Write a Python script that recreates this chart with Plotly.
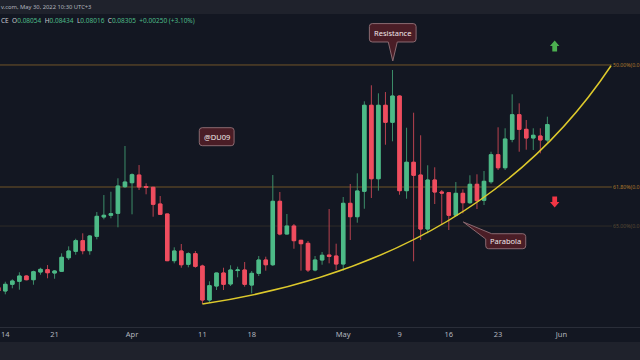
import plotly.graph_objects as go
import pandas as pd

# ---------------- data ----------------
start_date = "2022-03-13"
opens = [0.05650, 0.05593, 0.05702, 0.05751, 0.05837, 0.05777, 0.05902, 0.05940, 0.05886, 0.05914,
         0.06135, 0.06240, 0.06413, 0.06250, 0.06484, 0.06799, 0.06827, 0.06859, 0.07293, 0.07358,
         0.07483, 0.07296, 0.07283, 0.07011, 0.06848, 0.06087, 0.06245, 0.06028, 0.06201, 0.06000,
         0.05446, 0.05674, 0.05886, 0.05707, 0.05926, 0.05935, 0.05690, 0.05881, 0.06098, 0.06021,
         0.07055, 0.06522, 0.06652, 0.06419, 0.06370, 0.05935, 0.06098, 0.06179, 0.06163, 0.06033,
         0.07022, 0.06804, 0.07218, 0.08620, 0.07423, 0.08620, 0.08343, 0.08771, 0.07228, 0.07691,
         0.07483, 0.06603, 0.07402, 0.07206, 0.07195, 0.06827, 0.07185, 0.07032, 0.07332, 0.07071,
         0.07374, 0.07814, 0.07602, 0.08065, 0.08466, 0.08228, 0.08087, 0.08119, 0.08054]
highs = [0.05690, 0.05744, 0.05783, 0.05898, 0.05849, 0.05924, 0.05972, 0.06016, 0.05935, 0.06207,
         0.06321, 0.06445, 0.06533, 0.06506, 0.06880, 0.07157, 0.07211, 0.07430, 0.07956, 0.07511,
         0.07646, 0.07348, 0.07290, 0.07141, 0.06855, 0.06305, 0.06359, 0.06224, 0.06245, 0.06021,
         0.05751, 0.05890, 0.05972, 0.06012, 0.05989, 0.06065, 0.05919, 0.06163, 0.06152, 0.07483,
         0.07206, 0.06848, 0.06685, 0.06425, 0.06408, 0.06163, 0.06228, 0.06929, 0.06364, 0.07125,
         0.07337, 0.07511, 0.08685, 0.08946, 0.08815, 0.08836, 0.09195, 0.08780, 0.08254, 0.08499,
         0.08131, 0.07642, 0.07609, 0.07239, 0.07200, 0.07369, 0.07250, 0.07479, 0.07495, 0.07549,
         0.07863, 0.08261, 0.08245, 0.08799, 0.08652, 0.08380, 0.08245, 0.08245, 0.08434]
lows = [0.05560, 0.05539, 0.05637, 0.05614, 0.05767, 0.05695, 0.05858, 0.05800, 0.05793, 0.05902,
        0.06098, 0.06184, 0.06191, 0.06184, 0.06435, 0.06761, 0.06778, 0.06631, 0.07272, 0.06843,
        0.07239, 0.07169, 0.06804, 0.06831, 0.06080, 0.06044, 0.05972, 0.05979, 0.05972, 0.05381,
        0.05402, 0.05609, 0.05609, 0.05674, 0.05816, 0.05663, 0.05555, 0.05837, 0.05924, 0.06000,
        0.06501, 0.06515, 0.06282, 0.05924, 0.05902, 0.05914, 0.06021, 0.06044, 0.05935, 0.05924,
        0.06424, 0.06706, 0.06934, 0.07109, 0.07228, 0.07977, 0.08033, 0.07162, 0.07097, 0.06077,
        0.06424, 0.06533, 0.07011, 0.06668, 0.06587, 0.06804, 0.06859, 0.07011, 0.06929, 0.06994,
        0.07342, 0.07565, 0.07565, 0.08017, 0.07863, 0.07896, 0.07891, 0.07837, 0.08016]
closes = [0.05593, 0.05702, 0.05756, 0.05837, 0.05777, 0.05907, 0.05946, 0.05891, 0.05919, 0.06142,
          0.06245, 0.06413, 0.06250, 0.06489, 0.06810, 0.06827, 0.06853, 0.07304, 0.07369, 0.07488,
          0.07288, 0.07280, 0.07006, 0.06843, 0.06087, 0.06245, 0.06021, 0.06201, 0.05995, 0.05446,
          0.05679, 0.05886, 0.05702, 0.05935, 0.05935, 0.05702, 0.05881, 0.06098, 0.06021, 0.07055,
          0.06522, 0.06652, 0.06413, 0.06364, 0.05935, 0.06098, 0.06175, 0.06158, 0.06033, 0.07022,
          0.06804, 0.07223, 0.08620, 0.07423, 0.08620, 0.08343, 0.08771, 0.07228, 0.07691, 0.07479,
          0.06603, 0.07402, 0.07206, 0.07190, 0.06827, 0.07185, 0.07032, 0.07332, 0.07065, 0.07381,
          0.07814, 0.07602, 0.08070, 0.08466, 0.08228, 0.08087, 0.08131, 0.08055, 0.08305]
dates = pd.date_range(start_date, periods=len(opens), freq="D")

tick_dates = ["2022-03-14", "2022-03-21", "2022-04-01", "2022-04-11", "2022-04-18",
              "2022-05-01", "2022-05-09", "2022-05-16", "2022-05-23", "2022-06-01"]
tick_labels = ["14", "21", "Apr", "11", "18", "May", "9", "16", "23", "Jun"]

fib_labels = ["50.00%(0.0", "61.80%(0.0", "65.00%(0.0"]
fib_prices = [0.09277, 0.07288, 0.06652]
fib_end = "2022-06-08 04:20"

# parabola drawing: start point, control point, end point (quadratic curve)
parabola_dates = ["2022-04-11_00:00", "2022-05-20_09:50", "2022-06-08_01:00"]
parabola_prices = [0.05381, 0.06061, 0.09265]

header_top = "v.com, May 30, 2022 10:30 UTC+3"
last_ohlc = ["0.08054", "0.08434", "0.08016", "0.08305"]
last_change = "+0.00250 (+3.10%)"

# ---------------- styles ----------------
BG = "#131722"
BAR = "#1f222c"
GREEN = "#4dba87"
RED = "#ef4d5f"
GREEN_WICK = "#3c8d69"
RED_WICK = "#b8424f"
YELLOW = "#ddc92c"
FIBC = "rgba(190,135,45,0.55)"
FIBC_FAINT = "rgba(150,120,60,0.22)"
BOXFILL = "#4a1d26"
BOXLINE = "#8a6a71"
FONT = "Noto Sans"

body_top = [max(o, c) for o, c in zip(opens, closes)]
body_bot = [min(o, c) for o, c in zip(opens, closes)]

fig = go.Figure()
# wicks
fig.add_trace(go.Candlestick(
    x=dates, open=opens, high=highs, low=lows, close=closes,
    increasing=dict(line=dict(color=GREEN_WICK, width=1), fillcolor=GREEN),
    decreasing=dict(line=dict(color=RED_WICK, width=1), fillcolor=RED),
    whiskerwidth=0, hoverinfo="skip", showlegend=False))
# bodies
fig.add_trace(go.Candlestick(
    x=dates, open=opens, high=body_top, low=body_bot, close=closes,
    increasing=dict(line=dict(color=GREEN, width=1), fillcolor=GREEN),
    decreasing=dict(line=dict(color=RED, width=1), fillcolor=RED),
    whiskerwidth=0, hoverinfo="skip", showlegend=False))

shapes = []
annotations = []

# top and bottom bars
shapes.append(dict(type="rect", xref="paper", yref="paper", x0=0, x1=1,
                   y0=1, y1=1 + 14 / 313, fillcolor=BAR, line=dict(width=0), layer="below"))
shapes.append(dict(type="rect", xref="paper", yref="paper", x0=0, x1=1,
                   y0=-15 / 313, y1=-33 / 313, fillcolor=BAR, line=dict(width=0), layer="below"))

# fib lines and labels
for i, (lab, pr) in enumerate(zip(fib_labels, fib_prices)):
    col = FIBC if i < 2 else FIBC_FAINT
    tcol = "#b07a2c" if i < 2 else "#5a4b35"
    shapes.append(dict(type="line", xref="paper", yref="y", x0=0, x1=0.956,
                       y0=pr, y1=pr, line=dict(color=col, width=1), layer="below"))
    annotations.append(dict(x=fib_end, y=pr, xref="x", yref="y", text=lab, showarrow=False,
                            xanchor="left", yanchor="middle", xshift=-1,
                            font=dict(family=FONT, size=5.2, color=tcol)))

# parabola (quadratic curve through the drawing's anchor points)
shapes.append(dict(type="path", xref="x", yref="y",
                   path="M%s,%s Q%s,%s %s,%s" % (parabola_dates[0], parabola_prices[0],
                                                 parabola_dates[1], parabola_prices[1],
                                                 parabola_dates[2], parabola_prices[2]),
                   line=dict(color=YELLOW, width=1.5), layer="above"))

# callouts (pixel-sized paths anchored at the pointed-at spot)
def callout(xa, ya, path, text, xs, ys):
    shapes.append(dict(type="path", xref="x", yref="y", xsizemode="pixel", ysizemode="pixel",
                       xanchor=xa, yanchor=ya, path=path, fillcolor=BOXFILL,
                       line=dict(color=BOXLINE, width=1), layer="above"))
    annotations.append(dict(x=xa, y=ya, xref="x", yref="y", text=text, showarrow=False,
                            xanchor="center", yanchor="middle", xshift=xs, yshift=ys,
                            font=dict(family=FONT, size=7.5, color="#f0e8ea")))

callout("2022-05-08 01:00", 0.09342,
        "M0,0 L4.5,19 L20.4,19 Q23.3,19 23.3,21.9 L23.3,34.5 Q23.3,37.4 20.4,37.4 "
        "L-20.5,37.4 Q-23.4,37.4 -23.4,34.5 L-23.4,21.9 Q-23.4,19 -20.5,19 L-4.5,19 Z",
        "Resistance", 0, 28.2)
callout("2022-04-13 00:40", 0.08108,
        "M-14.5,-9 L14.5,-9 Q17.4,-9 17.4,-6.1 L17.4,6.1 Q17.4,9 14.5,9 L-14.5,9 "
        "Q-17.4,9 -17.4,6.1 L-17.4,-6.1 Q-17.4,-9 -14.5,-9 Z",
        "@DU09", 0, 0)
callout("2022-05-18 01:30", 0.06717,
        "M0,0 L28.4,-11.7 L59.5,-11.7 Q62.4,-11.7 62.4,-14.6 L62.4,-23.8 Q62.4,-26.7 59.5,-26.7 "
        "L25.3,-26.7 Q22.4,-26.7 22.4,-23.8 L22.4,-17 Z",
        "Parabola", 42.4, -19.2)

# up / down arrows
shapes.append(dict(type="path", xref="x", yref="y", xsizemode="pixel", ysizemode="pixel",
                   xanchor="2022-05-31 01:00", yanchor=0.09586,
                   path="M0,5.5 L4.7,0 L2.4,0 L2.4,-5.5 L-2.4,-5.5 L-2.4,0 L-4.7,0 Z",
                   fillcolor="#4caf50", line=dict(width=0), layer="above"))
shapes.append(dict(type="path", xref="x", yref="y", xsizemode="pixel", ysizemode="pixel",
                   xanchor="2022-05-31 01:00", yanchor=0.07043,
                   path="M0,-5.5 L4.7,0 L2.4,0 L2.4,5.5 L-2.4,5.5 L-2.4,0 L-4.7,0 Z",
                   fillcolor="#f23645", line=dict(width=0), layer="above"))

# header texts
annotations.append(dict(x=0, y=1 + 7 / 313, xref="paper", yref="paper", text=header_top,
                        showarrow=False, xanchor="left", yanchor="middle", xshift=-1,
                        font=dict(family=FONT, size=5.8, color="#b2b5be")))
g = lambda s: "<span style='color:%s'>%s</span>" % (GREEN, s)
hdr = "CE  O%s  H%s  L%s  C%s  %s" % (g(last_ohlc[0]), g(last_ohlc[1]), g(last_ohlc[2]),
                                      g(last_ohlc[3]), g(last_change))
annotations.append(dict(x=0, y=1 - 6.7 / 313, xref="paper", yref="paper", text=hdr,
                        showarrow=False, xanchor="left", yanchor="middle", xshift=-1,
                        font=dict(family=FONT, size=6.5, color="#c8cad0")))

fig.update_layout(
    width=640, height=360,
    margin=dict(l=0, r=0, t=14, b=33, autoexpand=False),
    paper_bgcolor=BG, plot_bgcolor=BG,
    shapes=shapes, annotations=annotations,
    showlegend=False,
    xaxis=dict(type="date", range=["2022-03-13 05:55", "2022-06-12 03:50"],
               rangeslider=dict(visible=False), showgrid=False, zeroline=False,
               tickvals=tick_dates, ticktext=tick_labels, ticks="",
               showline=True, linecolor="#2a2e39", linewidth=1, automargin=False,
               tickfont=dict(family=FONT, size=7.5, color="#b2b5be")),
    yaxis=dict(range=[0.05006, 0.10108], visible=False, showgrid=False, zeroline=False,
               automargin=False),
)

fig.write_html("out.html", config={"displayModeBar": False},
               post_script="document.body.style.margin='0';document.body.style.background='%s';" % BG)
